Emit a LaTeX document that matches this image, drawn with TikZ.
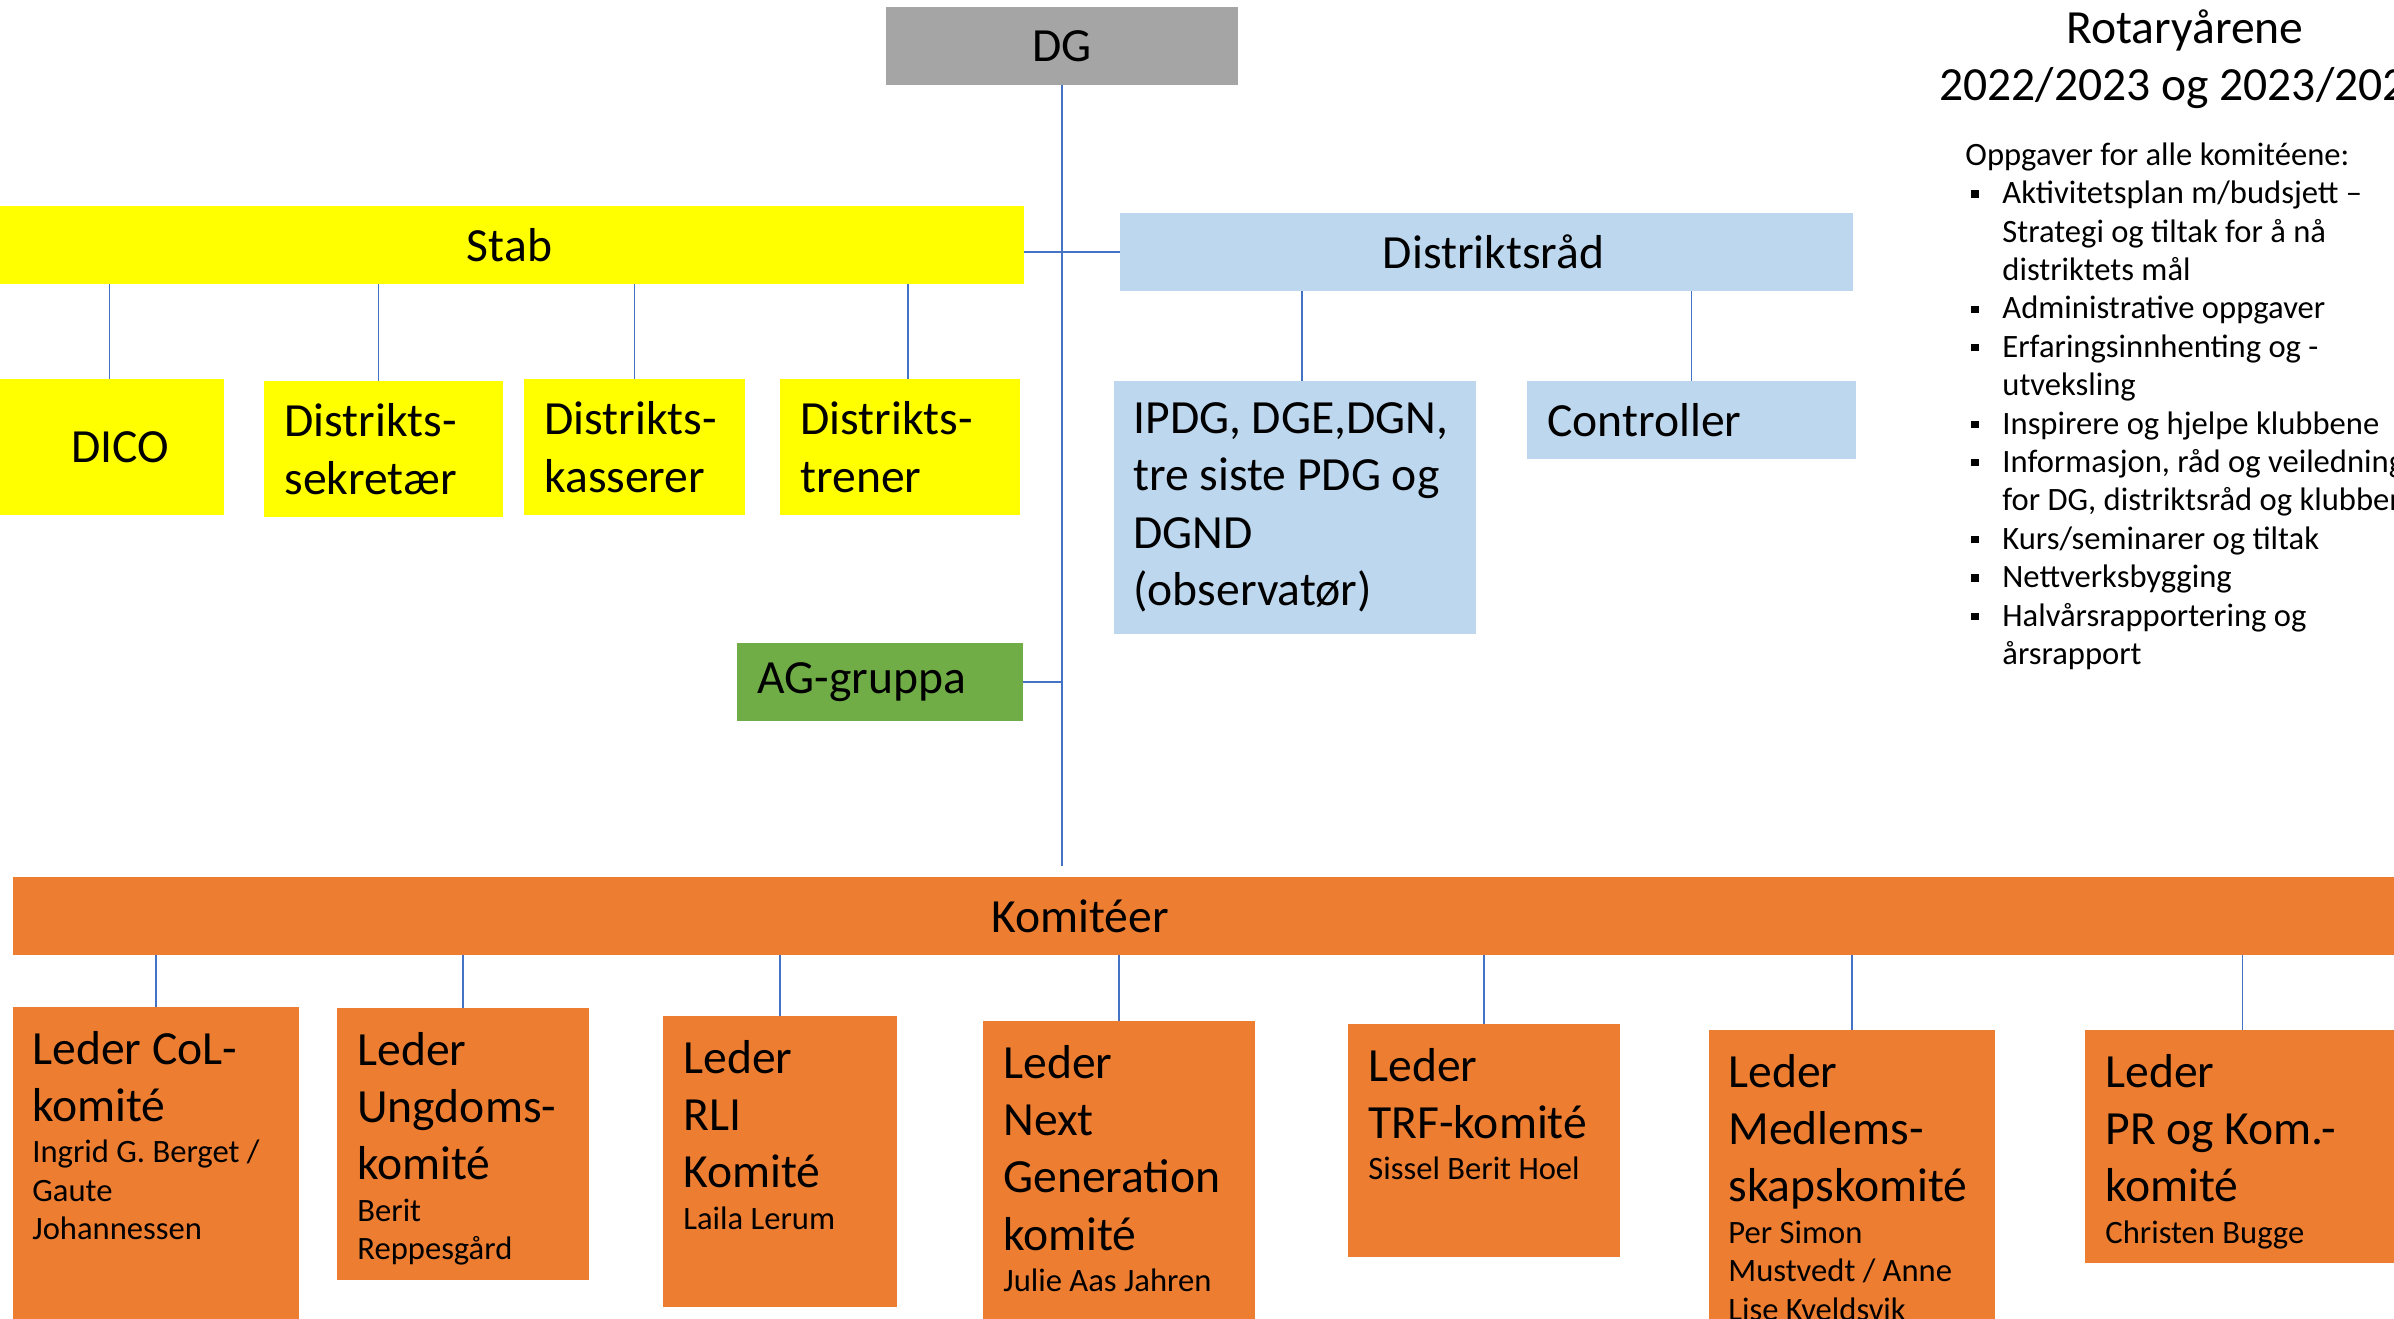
\documentclass[tikz,border=0pt]{standalone}
\usepackage{fontspec}
\setmainfont{Carlito}
\usepackage{tikz}
\usetikzlibrary{fit}
\usetikzlibrary{calc}
\definecolor{dggraa}{HTML}{A5A5A5}
\definecolor{stabgul}{HTML}{FFFF00}
\definecolor{raadblaa}{HTML}{BDD7EE}
\definecolor{aggroenn}{HTML}{70AD47}
\definecolor{komoransje}{HTML}{ED7D31}
\definecolor{linjeblaa}{HTML}{4472C4}
\newcommand{\stor}{\fontsize{23.8}{28.7}\selectfont}
\newcommand{\liten}{\fontsize{16.3}{19.2}\selectfont}
\newcommand{\komboks}[2]{\parbox[t]{150pt}{\raggedright #1\par\vspace{1.5pt}\liten #2}}
\newcommand{\merke}{\rule[3pt]{3.6pt}{3.6pt}}
\tikzstyle{every node}=[font=\stor]
\tikzstyle{boks}=[inner sep=0pt, outer sep=0pt]
\tikzstyle{venstre}=[inner sep=0pt, anchor=west, align=left]
\tikzstyle{komtekst}=[inner sep=0pt, anchor=base west]
\tikzstyle{linje}=[linjeblaa, line width=0.8pt]

\begin{document}
\begin{tikzpicture}[x=0.5pt, y=-0.5pt]
    \useasboundingbox (0, 0) rectangle (2394, 1318);
    \clip (0, 0) rectangle (2394, 1318);

    % DG, stab og distriktsraad
    \node [boks, fill=dggraa, fit={(886, 7) (1238, 85)}] (dg) {};
    \node [boks, fill=stabgul, fit={(-5, 206) (1024, 284)}] (stab) {};
    \node [boks, fill=raadblaa, fit={(1120, 213) (1853, 291)}] (raad) {};
    \node (dg-t) at (dg.center) {DG};
    \node (stab-t) at (stab.center) {Stab};
    \node (raad-t) at ([shift={(7, 0)}]raad.center) {Distriktsråd};

    \node [boks, fill=stabgul, fit={(-5, 379) (224, 515)}] (dico) {};
    \node [boks, fill=stabgul, fit={(264, 381) (503, 517)}] (sekr) {};
    \node [boks, fill=stabgul, fit={(524, 379) (745, 515)}] (kass) {};
    \node [boks, fill=stabgul, fit={(780, 379) (1020, 515)}] (tren) {};
    \node (dico-t) at ([shift={(11, 0)}]dico.center) {DICO};
    \node [venstre] (sekr-t) at ([shift={(20, 0)}]sekr.west) {Distrikts-\\sekretær};
    \node [venstre] (kass-t) at ([shift={(20, 0)}]kass.west) {Distrikts-\\kasserer};
    \node [venstre] (tren-t) at ([shift={(20, 0)}]tren.west) {Distrikts-\\trener};

    \node [boks, fill=raadblaa, fit={(1114, 381) (1476, 634)}] (ipdg) {};
    \node [boks, fill=raadblaa, fit={(1527, 381) (1856, 459)}] (ctrl) {};
    \node [venstre] (ipdg-t) at ([shift={(19, 0)}]ipdg.west) {IPDG, DGE,DGN,\\tre siste PDG og\\DGND\\(observatør)};
    \node [venstre] (ctrl-t) at ([shift={(20, 0)}]ctrl.west) {Controller};

    \node [boks, fill=aggroenn, fit={(737, 643) (1023, 721)}] (ag) {};
    \node [venstre] (ag-t) at ([shift={(20, 0)}]ag.west) {AG-gruppa};

    \coordinate (stamme) at ([shift={(0, 781)}]dg.south);
    \coordinate (sekr-top) at ([shift={(-5, 0)}]sekr.north);
    \coordinate (tren-top) at ([shift={(8, 0)}]tren.north);
    \coordinate (ipdg-top) at ([shift={(7, 0)}]ipdg.north);
    \draw [linje] (dg.south) -- (stamme);
    \draw [linje] (stab.east |- raad.west) -- (raad.west);
    \draw [linje] (ag.east) -- (ag.east -| dg.south);
    \foreach \n in {dico.north, sekr-top, kass.north, tren-top}
        \draw [linje] (\n) -- (\n |- stab.south);
    \foreach \n in {ipdg-top, ctrl.north}
        \draw [linje] (\n) -- (\n |- raad.south);

    % komiteene
    \node [boks, fill=komoransje, fit={(13, 877) (2400, 955)}] (kom) {};
    \node (kom-t) at (1080, 916) {Komitéer};

    \node [boks, fill=komoransje, fit={(13, 1007) (299, 1330)}] (col) {};
    \node [boks, fill=komoransje, fit={(337, 1008) (589, 1280)}] (ung) {};
    \node [boks, fill=komoransje, fit={(663, 1016) (897, 1307)}] (rli) {};
    \node [boks, fill=komoransje, fit={(983, 1021) (1255, 1330)}] (ngen) {};
    \node [boks, fill=komoransje, fit={(1348, 1024) (1620, 1257)}] (trf) {};
    \node [boks, fill=komoransje, fit={(1709, 1030) (1995, 1330)}] (med) {};
    \node [boks, fill=komoransje, fit={(2085, 1030) (2400, 1263)}] (pr) {};

    \node [komtekst] (col-t) at ([shift={(19, 57)}]col.north west) {\komboks{Leder CoL-\\komité}{Ingrid G. Berget /\\Gaute\\Johannessen}};
    \node [komtekst] (ung-t) at ([shift={(20, 57)}]ung.north west) {\komboks{Leder\\Ungdoms-\\komité}{Berit\\Reppesgård}};
    \node [komtekst] (rli-t) at ([shift={(20, 57)}]rli.north west) {\komboks{Leder\\RLI\\Komité}{Laila Lerum}};
    \node [komtekst] (ngen-t) at ([shift={(20, 57)}]ngen.north west) {\komboks{Leder\\Next\\Generation\\komité}{Julie Aas Jahren}};
    \node [komtekst] (trf-t) at ([shift={(20, 57)}]trf.north west) {\komboks{Leder\\TRF-komité}{Sissel Berit Hoel}};
    \node [komtekst] (med-t) at ([shift={(19, 57)}]med.north west) {\komboks{Leder\\Medlems-\\skapskomité}{Per Simon\\Mustvedt / Anne\\Lise Kveldsvik}};
    \node [komtekst] (pr-t) at ([shift={(20, 57)}]pr.north west) {\komboks{Leder\\PR og Kom.-\\komité}{Christen Bugge}};

    \foreach \n in {col, ung, rli, ngen, trf, med, pr}
        \draw [linje] (\n.north) -- (\n.north |- kom.south);

    % tittel og oppgaver
    \node [align=center] (tittel) at (2185, 59) {Rotaryårene\\2022/2023 og 2023/2024};
    \node [inner sep=0pt, anchor=north west, font=\liten] (oppg) at (1965, 138) {%
        \begin{tabular}{@{\hspace{3pt}}l@{\hspace{11.9pt}}l@{}}
            \multicolumn{2}{@{}l@{}}{Oppgaver for alle komitéene:}\\
            \merke & Aktivitetsplan m/budsjett –\\
                   & Strategi og tiltak for å nå\\
                   & distriktets mål\\
            \merke & Administrative oppgaver\\
            \merke & Erfaringsinnhenting og -\\
                   & utveksling\\
            \merke & Inspirere og hjelpe klubbene\\
            \merke & Informasjon, råd og veiledning\\
                   & for DG, distriktsråd og klubbene\\
            \merke & Kurs/seminarer og tiltak\\
            \merke & Nettverksbygging\\
            \merke & Halvårsrapportering og\\
                   & årsrapport
        \end{tabular}};
\end{tikzpicture}
\end{document}
